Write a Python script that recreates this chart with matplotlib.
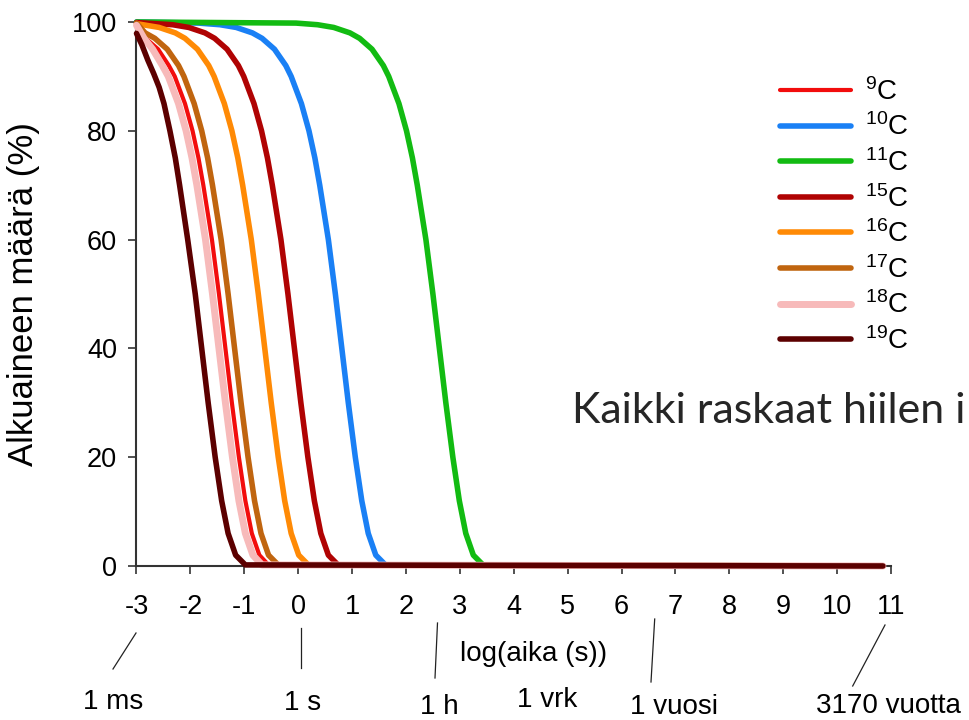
import matplotlib
matplotlib.use("Agg")
import matplotlib.pyplot as plt
from matplotlib.lines import Line2D

plt.rcParams['font.family'] = ['Liberation Sans', 'DejaVu Sans']
plt.rcParams['mathtext.fontset'] = 'custom'
plt.rcParams['mathtext.rm'] = 'Liberation Sans'
plt.rcParams['mathtext.it'] = 'Liberation Sans'
plt.rcParams['axes.unicode_minus'] = False

# remaining share (%) of each isotope: x = log10(time), y = %
x_c9 = [-3.00, -2.83, -2.60, -2.40, -2.29, -2.10, -1.96, -1.85, -1.76, -1.60, -1.47, -1.35, -1.23, -1.10, -0.98, -0.86, -0.72, -0.55, 10.85]
y_c9 = [99.6, 97.0, 95.0, 92.0, 90.0, 85.0, 80.0, 75.0, 70.0, 60.0, 50.0, 40.0, 30.0, 20.0, 12.0, 6.0, 2.0, 0.2, 0.0]

x_c10 = [-3.00, -1.85, -1.45, -1.15, -0.85, -0.67, -0.44, -0.23, -0.13, 0.06, 0.20, 0.31, 0.40, 0.56, 0.69, 0.81, 0.93, 1.06, 1.18, 1.30, 1.44, 1.62, 10.85]
y_c10 = [100.0, 99.8, 99.5, 99.0, 98.0, 97.0, 95.0, 92.0, 90.0, 85.0, 80.0, 75.0, 70.0, 60.0, 50.0, 40.0, 30.0, 20.0, 12.0, 6.0, 2.0, 0.2, 0.0]

x_c11 = [-3.00, -0.04, 0.36, 0.66, 0.96, 1.14, 1.37, 1.58, 1.68, 1.87, 2.01, 2.12, 2.21, 2.37, 2.50, 2.62, 2.74, 2.87, 2.99, 3.11, 3.25, 3.43, 10.85]
y_c11 = [100.0, 99.8, 99.5, 99.0, 98.0, 97.0, 95.0, 92.0, 90.0, 85.0, 80.0, 75.0, 70.0, 60.0, 50.0, 40.0, 30.0, 20.0, 12.0, 6.0, 2.0, 0.2, 0.0]

x_c15 = [-3.00, -2.33, -2.03, -1.73, -1.55, -1.32, -1.11, -1.01, -0.82, -0.68, -0.57, -0.48, -0.32, -0.19, -0.07, 0.05, 0.18, 0.30, 0.42, 0.56, 0.74, 10.85]
y_c15 = [99.9, 99.5, 99.0, 98.0, 97.0, 95.0, 92.0, 90.0, 85.0, 80.0, 75.0, 70.0, 60.0, 50.0, 40.0, 30.0, 20.0, 12.0, 6.0, 2.0, 0.2, 0.0]

x_c16 = [-3.00, -2.58, -2.28, -2.10, -1.87, -1.66, -1.56, -1.37, -1.23, -1.12, -1.03, -0.87, -0.74, -0.62, -0.50, -0.37, -0.25, -0.13, 0.01, 0.19, 10.85]
y_c16 = [99.7, 99.0, 98.0, 97.0, 95.0, 92.0, 90.0, 85.0, 80.0, 75.0, 70.0, 60.0, 50.0, 40.0, 30.0, 20.0, 12.0, 6.0, 2.0, 0.2, 0.0]

x_c17 = [-3.00, -2.84, -2.66, -2.43, -2.22, -2.12, -1.93, -1.79, -1.68, -1.59, -1.43, -1.30, -1.18, -1.06, -0.93, -0.81, -0.69, -0.55, -0.37, 10.85]
y_c17 = [99.8, 98.0, 97.0, 95.0, 92.0, 90.0, 85.0, 80.0, 75.0, 70.0, 60.0, 50.0, 40.0, 30.0, 20.0, 12.0, 6.0, 2.0, 0.2, 0.0]

x_c18 = [-3.00, -2.86, -2.70, -2.52, -2.41, -2.22, -2.08, -1.97, -1.88, -1.72, -1.59, -1.47, -1.35, -1.22, -1.10, -0.98, -0.84, -0.67, 10.85]
y_c18 = [99.4, 97.0, 95.0, 92.0, 90.0, 85.0, 80.0, 75.0, 70.0, 60.0, 50.0, 40.0, 30.0, 20.0, 12.0, 6.0, 2.0, 0.2, 0.0]

x_c19 = [-3.00, -2.90, -2.79, -2.68, -2.58, -2.49, -2.38, -2.28, -2.20, -2.05, -1.91, -1.79, -1.67, -1.54, -1.42, -1.30, -1.16, -0.98, 10.85]
y_c19 = [97.9, 95.8, 93.0, 90.5, 88.0, 85.0, 80.0, 75.0, 70.0, 60.0, 50.0, 40.0, 30.0, 20.0, 12.0, 6.0, 2.0, 0.2, 0.0]

isotopes = ["9", "10", "11", "15", "16", "17", "18", "19"]
x_ticks = list(range(-3, 12))
y_ticks = [0, 20, 40, 60, 80, 100]

# time landmarks under the axis
time_labels = ["1 ms", "1 s", "1 h", "1 vrk", "1 vuosi", "3170 vuotta"]

series = [(x_c9, y_c9), (x_c10, y_c10), (x_c11, y_c11), (x_c15, y_c15),
          (x_c16, y_c16), (x_c17, y_c17), (x_c18, y_c18), (x_c19, y_c19)]
colors = ["#f20d0d", "#1a80f5", "#12bb12", "#b00303", "#ff8a05", "#c0650f", "#f7baba", "#5c0000"]
widths = [3.0, 4.0, 4.0, 4.0, 4.0, 4.0, 5.0, 4.0]

W, H = 970, 720
def fx(px):
    return px / W
def fy(py):
    return 1 - py / H

fig = plt.figure(figsize=(9.7, 7.2), dpi=100)
ax = fig.add_axes([fx(136.5), fy(566), (891 - 136.5) / W, (566 - 22) / H])

handles = []
for (xs, ys), iso, c, lw in zip(series, isotopes, colors, widths):
    ax.plot(xs, ys, color=c, lw=lw, solid_capstyle="round", solid_joinstyle="round",
            clip_on=False, zorder=3)
    handles.append(Line2D([], [], color=c, lw=lw, solid_capstyle="round"))

ax.set_xlim(-3, 11)
ax.set_ylim(0, 100)
ax.set_xticks(x_ticks)
ax.set_yticks(y_ticks)
for s in ["top", "right"]:
    ax.spines[s].set_visible(False)
for s in ["left", "bottom"]:
    ax.spines[s].set_color("#333333")
    ax.spines[s].set_linewidth(1.5)
ax.tick_params(axis="both", direction="out", length=6, width=1.2, color="#333333",
               labelsize=19.5, labelcolor="black")
ax.tick_params(axis="x", pad=14)
ax.tick_params(axis="y", pad=8)

ax.set_ylabel("Alkuaineen määrä (%)", fontsize=25)
ax.yaxis.set_label_coords((40 - 136.5) / 755, 0.5)
ax.set_xlabel("log(aika (s))", fontsize=20, va="center")
ax.xaxis.set_label_coords((534 - 136.5) / 755, -(654 - 566) / 544)

labels = ["$^{%s}$C" % i for i in isotopes]
ax.legend(handles, labels, loc="upper left", bbox_to_anchor=(fx(780), fy(78)),
          bbox_transform=fig.transFigure, frameon=False, fontsize=20,
          handlelength=2.55, handletextpad=0.5, labelspacing=0.28,
          borderpad=0, borderaxespad=0)

fig.text(fx(572), fy(411), "Kaikki raskaat hiilen i", fontsize=31, family=["Lato", "DejaVu Sans"],
         color="#262626", va="center", ha="left")

# pointer lines and time labels below the axis
pointers = [((136, 633), (113, 669)), ((300.7, 628), (300.7, 668)), ((437.5, 623), (435, 678)),
            None, ((654.7, 619), (651, 682)), ((885, 625), (852.7, 686))]
label_pos = [(113, 702), (303, 703), (439, 707), (547, 700), (674, 707), (888, 706)]
for lab, ptr, (tx, ty) in zip(time_labels, pointers, label_pos):
    if ptr is not None:
        (x0, y0), (x1, y1) = ptr
        fig.add_artist(Line2D([fx(x0), fx(x1)], [fy(y0), fy(y1)], color="#222222", lw=0.9))
    fig.text(fx(tx), fy(ty), lab, fontsize=20, ha="center", va="center")

fig.savefig("out.png", dpi=100)
